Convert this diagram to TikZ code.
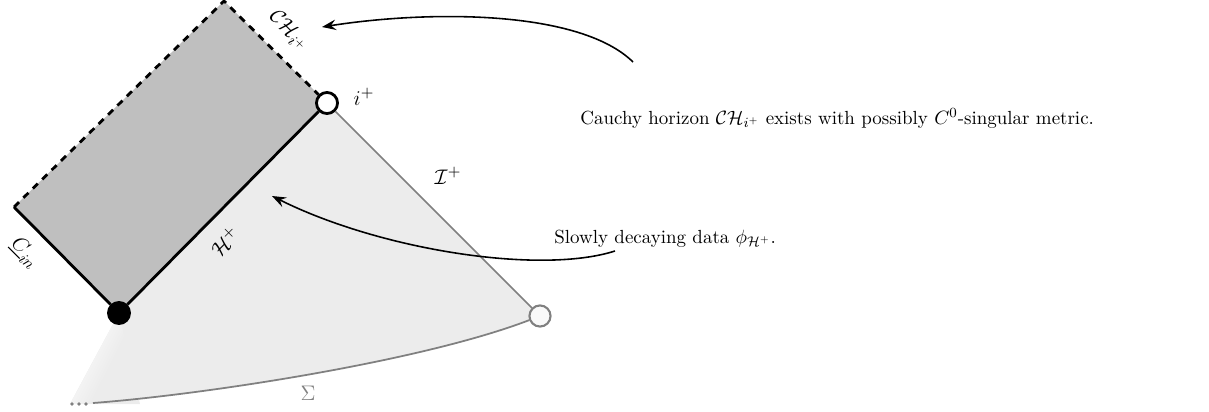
\documentclass[tikz,border=0pt]{standalone}
\usepackage{amsmath,amssymb}
\usetikzlibrary{arrows.meta}

\pgfdeclarehorizontalshading{edgefade}{100bp}{color(0bp)=(white); color(25bp)=(white); color(55bp)=(gray!15); color(100bp)=(gray!15)}

\begin{document}
\begin{tikzpicture}[x=0.02cm,y=-0.02cm,font=\fontsize{10.8}{13}\selectfont,
    hor/.style={line width=1.6pt},
    nul/.style={gray,line width=1pt},
    pt/.style={circle,draw,line width=1.6pt,minimum size=12pt,inner sep=0pt},
    lab/.style={font=\fontsize{13}{15}\selectfont},
    arr/.style={-{Stealth[length=2.8mm,inset=1mm]},line width=0.9pt}]
    \useasboundingbox (0,0) rectangle (1209,412);
    \coordinate (b) at (119,313);
    \coordinate (ip) at (327,103);
    \coordinate (io) at (540,316);
    \coordinate (top) at (224,1);
    \coordinate (cin) at (14,207);
    \coordinate (sig) at (93,403);
    \coordinate (fade) at (70,404);
    % exterior and interior regions
    \fill[gray!15] (b) -- (ip) -- (io) .. controls (420,362) and (200,395) .. (sig) -- (fade) -- cycle;
    \shade[shading=edgefade,shading angle=-27] (b) -- (fade) -- (140,404) -- cycle;
    \fill[gray!50] (b) -- (ip) -- (top) -- (cin) -- cycle;
    \node[pt,fill=black] (bif) at (b) {};
    \node[pt,fill=white] (iplus) at (ip) {};
    \node[pt,draw=gray,fill=gray!5,line width=1.2pt] (izero) at (io) {};
    % boundaries
    \draw[hor,dash pattern=on 4pt off 3.5pt] (cin) -- (top) -- (iplus);
    \draw[hor] (cin) -- (bif) -- (iplus);
    \draw[nul] (iplus) -- (izero);
    \draw[nul] (izero) .. controls (420,362) and (200,395) .. (sig);
    \foreach \x in {72,79,86} \fill[gray] (\x,404) circle (1.1pt);
    % labels
    \node[lab,rotate=-45] (cinlab) at (25,253) {$\underline{C}_{in}$};
    \node[lab,rotate=-45] (chlab) at (289,31) {$\mathcal{CH}_{i^+}$};
    \node[lab,rotate=45] (hlab) at (225,241) {$\mathcal{H}^+$};
    \node[lab] (scrilab) at (448,176) {$\mathcal{I}^+$};
    \node[lab] (iplab) at (364,97) {$i^+$};
    \node[lab,gray] (siglab) at (308,393) {$\Sigma$};
    % comments
    \node[anchor=west,inner sep=0pt] (cauchy) at (580,118) {Cauchy horizon $\mathcal{CH}_{i^+}$ exists with possibly $C^0$-singular metric.};
    \node[anchor=west,inner sep=0pt] (slow) at (554,239) {Slowly decaying data $\phi_{\mathcal{H}^+}$.};
    \coordinate (a1) at (633,62);
    \coordinate (a1e) at (322,27);
    \coordinate (a2) at (615,251);
    \coordinate (a2e) at (272,196);
    \draw[arr] (a1) .. controls (580,10) and (430,10) .. (a1e);
    \draw[arr] (a2) .. controls (540,275) and (380,250) .. (a2e);
\end{tikzpicture}
\end{document}
